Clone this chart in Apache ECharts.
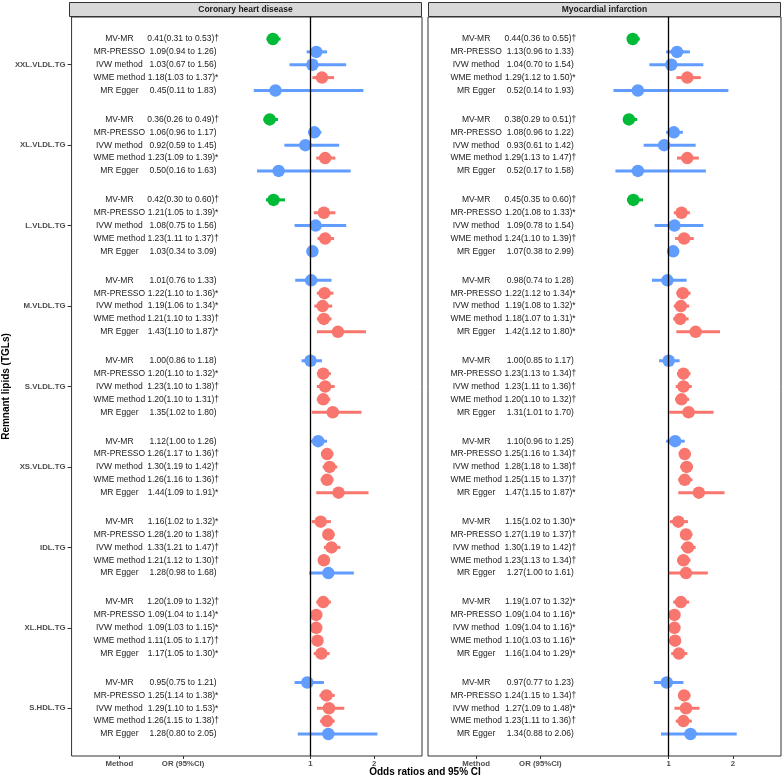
<!DOCTYPE html>
<html>
<head>
<meta charset="utf-8">
<script src="https://cdn.jsdelivr.net/npm/echarts@6/dist/echarts.min.js"></script>
<style>html,body{margin:0;padding:0;background:#fff}#c{width:782px;height:779px}</style>
</head>
<body>
<div id="c"></div>
<script>
// ---------- DATA ----------
const categories = ['XXL.VLDL.TG','XL.VLDL.TG','L.VLDL.TG','M.VLDL.TG','S.VLDL.TG','XS.VLDL.TG','IDL.TG','XL.HDL.TG','S.HDL.TG'];
const methods = ['MV-MR','MR-PRESSO','IVW method','WME method','MR Egger'];
const panelTitles = ['Coronary heart disease','Myocardial infarction'];
const xTickValues = [-2, -1, 1, 2];
const xTickLabels = ['Method', 'OR (95%CI)', '1', '2'];

// Coronary heart disease (9 groups x 5 methods)
const chdOR = [
  0.41,1.09,1.03,1.18,0.45,
  0.36,1.06,0.92,1.23,0.50,
  0.42,1.21,1.08,1.23,1.03,
  1.01,1.22,1.19,1.21,1.43,
  1.00,1.20,1.23,1.20,1.35,
  1.12,1.26,1.30,1.26,1.44,
  1.16,1.28,1.33,1.21,1.28,
  1.20,1.09,1.09,1.11,1.17,
  0.95,1.25,1.29,1.26,1.28];
const chdLow = [
  0.31,0.94,0.67,1.03,0.11,
  0.26,0.96,0.59,1.09,0.16,
  0.30,1.05,0.75,1.11,0.34,
  0.76,1.10,1.06,1.10,1.10,
  0.86,1.10,1.10,1.10,1.02,
  1.00,1.17,1.19,1.16,1.09,
  1.02,1.20,1.21,1.12,0.98,
  1.09,1.04,1.03,1.05,1.05,
  0.75,1.14,1.10,1.15,0.80];
const chdHigh = [
  0.53,1.26,1.56,1.37,1.83,
  0.49,1.17,1.45,1.39,1.63,
  0.60,1.39,1.56,1.37,3.09,
  1.33,1.36,1.34,1.33,1.87,
  1.18,1.32,1.38,1.31,1.80,
  1.26,1.36,1.42,1.36,1.91,
  1.32,1.38,1.47,1.30,1.68,
  1.32,1.14,1.15,1.17,1.30,
  1.21,1.38,1.53,1.38,2.05];
const chdSig = [
  '†','','','*','',
  '†','','','*','',
  '†','*','','†','',
  '','*','*','†','*',
  '','*','†','†','',
  '','†','†','†','*',
  '*','†','†','†','',
  '†','*','*','†','*',
  '','*','*','†',''];
const chdClass = [
  'g','b','b','r','b',
  'g','b','b','r','b',
  'g','r','b','r','b',
  'b','r','r','r','r',
  'b','r','r','r','r',
  'b','r','r','r','r',
  'r','r','r','r','b',
  'r','r','r','r','r',
  'b','r','r','r','b'];

// Myocardial infarction
const miOR = [
  0.44,1.13,1.04,1.29,0.52,
  0.38,1.08,0.93,1.29,0.52,
  0.45,1.20,1.09,1.24,1.07,
  0.98,1.22,1.19,1.18,1.42,
  1.00,1.23,1.23,1.20,1.31,
  1.10,1.25,1.28,1.25,1.47,
  1.15,1.27,1.30,1.23,1.27,
  1.19,1.09,1.09,1.10,1.16,
  0.97,1.24,1.27,1.23,1.34];
const miLow = [
  0.36,0.96,0.70,1.12,0.14,
  0.29,0.96,0.61,1.13,0.17,
  0.35,1.08,0.78,1.10,0.38,
  0.74,1.12,1.08,1.07,1.12,
  0.85,1.13,1.11,1.10,1.01,
  0.96,1.16,1.18,1.15,1.15,
  1.02,1.19,1.19,1.13,1.00,
  1.07,1.04,1.04,1.03,1.04,
  0.77,1.15,1.09,1.11,0.88];
const miHigh = [
  0.55,1.33,1.54,1.50,1.93,
  0.51,1.22,1.42,1.47,1.58,
  0.60,1.33,1.54,1.39,2.99,
  1.28,1.34,1.32,1.31,1.80,
  1.17,1.34,1.36,1.32,1.70,
  1.25,1.34,1.38,1.37,1.87,
  1.30,1.37,1.42,1.34,1.61,
  1.32,1.16,1.16,1.16,1.29,
  1.23,1.34,1.48,1.36,2.06];
const miSig = [
  '†','','','*','',
  '†','','','†','',
  '†','*','','†','',
  '','*','*','*','*',
  '','†','†','†','',
  '','†','†','†','*',
  '*','†','†','†','',
  '*','*','*','*','*',
  '','†','*','†',''];
const miClass = [
  'g','b','b','r','b',
  'g','b','b','r','b',
  'g','r','b','r','b',
  'b','r','r','r','r',
  'b','r','r','r','r',
  'b','r','r','r','r',
  'r','r','r','r','r',
  'r','r','r','r','r',
  'b','r','r','r','b'];

// ---------- LAYOUT / STYLE ----------
const COLORS = { g: '#00BA38', b: '#619CFF', r: '#F8766D' };
const XLIM = 2.5;          // data limits (values beyond are dropped, like ggplot xlim)
const XEXP = 0.25;         // 5% expansion
const GROUP_STEP = 6.25;
const YPAD = 1.71;
const FONT = "'Liberation Sans', Arial, Helvetica, sans-serif";
const grids = [
  { left: 69, top: 17, width: 353, height: 739 },
  { left: 428, top: 17, width: 353, height: 739 }
];
const panels = [
  { or: chdOR, low: chdLow, high: chdHigh, sig: chdSig, cls: chdClass },
  { or: miOR, low: miLow, high: miHigh, sig: miSig, cls: miClass }
];

function yPos(g, r) { return g * GROUP_STEP + r; }
const yMax = yPos(categories.length - 1, methods.length - 1);
const catTickValues = categories.map((c, g) => yPos(g, 2));

const fmt = v => v.toFixed(2);

const xAxes = [], yAxes = [], series = [];
panels.forEach((p, pi) => {
  xAxes.push({
    type: 'value', gridIndex: pi, position: 'bottom', min: -XLIM - XEXP, max: XLIM + XEXP,
    splitLine: { show: false }, axisLine: { show: false, onZero: false },
    axisTick: { show: true, customValues: xTickValues, length: 3, lineStyle: { color: '#333', width: 1 } },
    axisLabel: {
      customValues: xTickValues, margin: 4,
      formatter: v => { const i = xTickValues.findIndex(t => Math.abs(t - v) < 1e-9); return i >= 0 ? xTickLabels[i] : ''; },
      color: '#4D4D4D', fontSize: 7.8, fontWeight: 'bold', fontFamily: FONT
    }
  });
  yAxes.push({
    type: 'value', gridIndex: pi, position: 'left', inverse: true, min: -YPAD, max: yMax + YPAD,
    splitLine: { show: false }, axisLine: { show: false, onZero: false },
    name: pi === 0 ? 'Remnant lipids (TGLs)' : '', nameLocation: 'middle', nameGap: 58, nameRotate: 90,
    nameTextStyle: { color: '#000', fontSize: 10, fontWeight: 'bold', fontFamily: FONT },
    axisTick: { show: pi === 0, customValues: catTickValues, length: 4, lineStyle: { color: '#333', width: 1 } },
    axisLabel: {
      show: pi === 0, customValues: catTickValues, margin: 6,
      formatter: v => { const i = catTickValues.findIndex(t => Math.abs(t - v) < 1e-9); return i >= 0 ? categories[i] : ''; },
      color: '#4D4D4D', fontSize: 7.8, fontWeight: 'bold', fontFamily: FONT
    }
  });

  const rows = [];
  for (let g = 0; g < categories.length; g++) {
    for (let r = 0; r < methods.length; r++) {
      const k = g * methods.length + r;
      rows.push({ k, y: yPos(g, r), or: p.or[k], lo: p.low[k], hi: p.high[k], cls: p.cls[k] });
    }
  }

  // error bars
  series.push({
    type: 'custom', xAxisIndex: pi, yAxisIndex: pi, z: 2, silent: true,
    data: rows.map(d => [d.lo, d.hi, d.y, d.k]),
    renderItem: (params, api) => {
      const lo = api.value(0), hi = api.value(1), y = api.value(2), k = api.value(3);
      if (lo < -XLIM || hi > XLIM) return null;
      const a = api.coord([lo, y]), b = api.coord([hi, y]);
      return { type: 'line', shape: { x1: a[0], y1: a[1], x2: b[0], y2: b[1] },
        style: { stroke: COLORS[p.cls[k]], lineWidth: 3 } };
    },
    markLine: {
      silent: true, symbol: 'none', label: { show: false },
      lineStyle: { color: '#000', width: 1.3, type: 'solid' },
      data: [{ xAxis: 1 }]
    }
  });
  // points
  series.push({
    type: 'scatter', xAxisIndex: pi, yAxisIndex: pi, z: 3, silent: true,
    symbol: 'circle', symbolSize: 12.5,
    data: rows.map(d => ({ value: [d.or, d.y], itemStyle: { color: COLORS[d.cls], opacity: 1 } }))
  });
  // method text
  series.push({
    type: 'custom', xAxisIndex: pi, yAxisIndex: pi, z: 4, silent: true,
    data: rows.map(d => [xTickValues[0], d.y, d.k]),
    renderItem: (params, api) => {
      const c = api.coord([api.value(0), api.value(1)]);
      const k = api.value(2);
      return { type: 'text', x: c[0], y: c[1],
        style: { text: methods[k % methods.length], align: 'center', verticalAlign: 'middle',
          fontSize: 8.5, fontFamily: FONT, fill: '#1A1A1A' } };
    }
  });
  // OR text
  series.push({
    type: 'custom', xAxisIndex: pi, yAxisIndex: pi, z: 4, silent: true,
    data: rows.map(d => [xTickValues[1], d.y, d.k]),
    renderItem: (params, api) => {
      const c = api.coord([api.value(0), api.value(1)]);
      const k = api.value(2);
      const t = fmt(p.or[k]) + '(' + fmt(p.low[k]) + ' to ' + fmt(p.high[k]) + ')' + p.sig[k];
      return { type: 'text', x: c[0], y: c[1],
        style: { text: t, align: 'center', verticalAlign: 'middle',
          fontSize: 8.5, fontFamily: FONT, fill: '#1A1A1A' } };
    }
  });
});

const graphics = [];
grids.forEach((g, i) => {
  graphics.push({ type: 'rect', silent: true, shape: { x: g.left + 0.5, y: 2.5, width: g.width - 1, height: 14 },
    style: { fill: '#D9D9D9', stroke: '#333', lineWidth: 1 } });
  graphics.push({ type: 'text', silent: true, x: g.left + g.width / 2, y: 9.5,
    style: { text: panelTitles[i], align: 'center', verticalAlign: 'middle', fontSize: 8.5, fontWeight: 'bold', fontFamily: FONT, fill: '#1A1A1A' } });
});
graphics.push({ type: 'text', silent: true, x: (grids[0].left + grids[1].left + grids[1].width) / 2, y: 772,
  style: { text: 'Odds ratios and 95% CI', align: 'center', verticalAlign: 'middle', fontSize: 10, fontWeight: 'bold', fontFamily: FONT, fill: '#000' } });

const chart = echarts.init(document.getElementById('c'), null, { renderer: 'canvas' });
chart.setOption({
  animation: false,
  backgroundColor: '#fff',
  grid: grids.map(g => Object.assign({ show: true, borderColor: '#333', borderWidth: 1, backgroundColor: 'transparent', containLabel: false }, g)),
  xAxis: xAxes,
  yAxis: yAxes,
  series: series,
  graphic: graphics
});
</script>
</body>
</html>
